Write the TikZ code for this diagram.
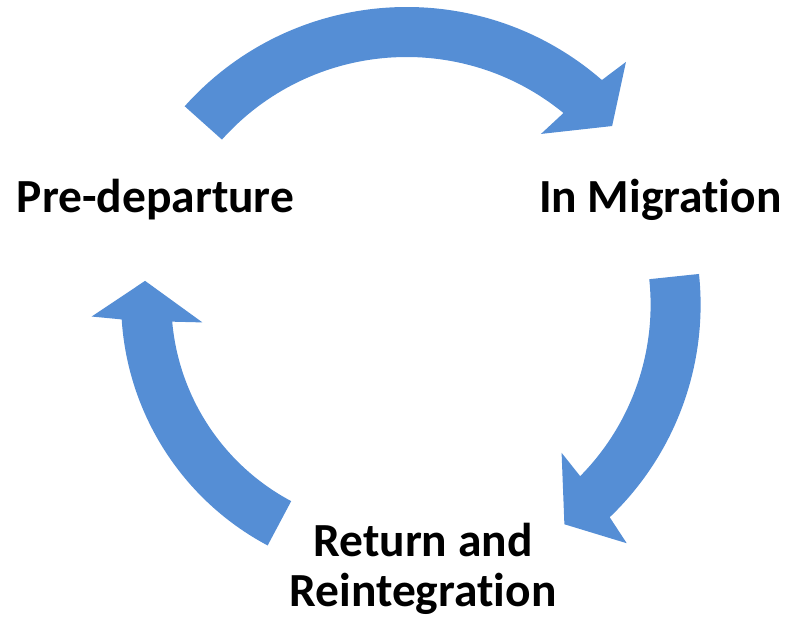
\documentclass[tikz,border=0pt]{standalone}
\usepackage{fontspec}
\setmainfont{Carlito}[Ligatures=NoCommon]
\definecolor{arrowblue}{HTML}{558ED5}
\begin{document}
\begin{tikzpicture}[x=1pt,y=1pt,
  cyclearrow/.style={fill=arrowblue, draw=none},
  cyclabel/.style={font=\fontsize{47.5}{50}\selectfont\bfseries, inner sep=0pt, align=center}]
\useasboundingbox (0,0) rectangle (790,620);
% top arrow
\begin{scope}[shift={(406.6,315.3)}]
\fill[cyclearrow] (138.2:297.7pt) arc[start angle=138.2,end angle=49.0,radius=297.7pt]
  -- (47.9:327.2pt) -- (41.0:272.3pt) -- (51.8:217.3pt) -- (50.7:247.7pt)
  arc[start angle=50.7,end angle=138.2,radius=247.7pt] -- cycle;
\end{scope}
% right arrow
\begin{scope}[shift={(406.6,315.3)}]
\fill[cyclearrow] (6.0:294pt) arc[start angle=6.0,end angle=-46.3,radius=294pt]
  -- (-47.3:324.6pt) -- (-54.3:270.4pt) -- (-43.7:214.4pt) -- (-44.65:244pt)
  arc[start angle=-44.65,end angle=6.0,radius=244pt] -- cycle;
\end{scope}
% left arrow
\begin{scope}[shift={(397.3,318.4)}]
\fill[cyclearrow] (242.0:276.2pt) arc[start angle=242.0,end angle=183.7,radius=276.2pt]
  -- (182.8:306pt) -- (175.3:253.1pt) -- (186.1:196pt) -- (185.1:226pt)
  arc[start angle=185.1,end angle=242.0,radius=226pt] -- cycle;
\end{scope}
\node[cyclabel, anchor=base] (pre) at (155.5,407) {Pre-departure};
\node[cyclabel, anchor=base] (mig) at (660.3,407.3) {In Migration};
\node[cyclabel, anchor=base] (ret) at (423,13.3) {Return and\\Reintegration};
\end{tikzpicture}
\end{document}
